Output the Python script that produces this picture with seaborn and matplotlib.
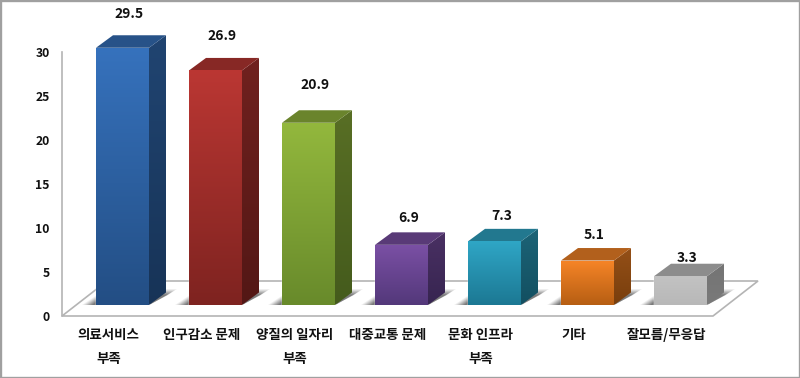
import numpy as np
import pandas as pd
import matplotlib
matplotlib.use("Agg")
import matplotlib.pyplot as plt
from matplotlib.patches import Polygon, Rectangle
from matplotlib.colors import to_rgb
import seaborn as sns

categories = ["의료서비스\n부족", "인구감소 문제", "양질의 일자리\n부족", "대중교통 문제", "문화 인프라\n부족", "기타", "잘모름/무응답"]
values = [29.5, 26.9, 20.9, 6.9, 7.3, 5.1, 3.3]
tick_values = [0, 5, 10, 15, 20, 25, 30]
top_colors = ["#3672bd", "#bb3733", "#93b83d", "#7b50a5", "#2fa6c6", "#f78527", "#c2c2c2"]
bottom_colors = ["#234e84", "#7e2320", "#688a2b", "#53387a", "#1c7893", "#b65e13", "#b8b8b8"]
label_gaps_px = [21, 22, 25, 14, 13, 13, 6]   # gap above each bar's top face

W, H = 800, 378
sns.set_theme(style="white")
plt.rcParams["font.family"] = ["Noto Sans CJK KR", "DejaVu Sans"]
fig = plt.figure(figsize=(W / 100, H / 100), dpi=100, facecolor="white")


def px_axes(x0, x1, ytop, ybot):
    return fig.add_axes([x0 / W, 1 - ybot / H, (x1 - x0) / W, (ybot - ytop) / H])


# Background axis: y axis + floor + category labels
ax = px_axes(62, 713, 52, 316)
df = pd.DataFrame({"cat": categories, "val": values})
ax.set_xlim(-0.5, 6.5)
ax.set_ylim(0, 30)
ax.set_xticks(range(len(categories)))
ax.set_xticklabels(categories, fontsize=9.7, fontweight="bold", color="#111111", linespacing=1.85, va="top")
ax.set_yticks(tick_values)
ax.set_yticklabels([str(t) for t in tick_values], fontsize=8.8, fontweight="bold", color="#111111")
ax.tick_params(axis="x", length=0, pad=9)
ax.tick_params(axis="y", length=0, pad=9)
for s in ["top", "right", "bottom"]:
    ax.spines[s].set_visible(False)
ax.spines["left"].set_color("#b4b4b4")
ax.spines["left"].set_linewidth(1.2)
fdx, fdy = 45 / 93, 35 / 8.8
floor = [(-0.5, 0), (6.5, 0), (6.5 + fdx, fdy), (-0.5 + fdx, fdy)]
ax.add_patch(Polygon(floor, closed=True, facecolor="white", edgecolor="#b4b4b4", lw=1.2, clip_on=False))

# Bars axis: front faces through seaborn (taller than the bars so the depth faces fit)
PXX, PXY = 93.0, 8.72
BAR_YMAX = 34
bx = px_axes(76, 727, 305 - BAR_YMAX * PXY, 305)
bx.patch.set_alpha(0)
sns.barplot(data=df, x="cat", y="val", hue="cat", palette=top_colors, width=53 / 93,
            legend=False, ax=bx, saturation=1)
bx.set_xlim(-0.5, 6.5)
bx.set_ylim(0, BAR_YMAX)
bx.axis("off")

ddx, ddy = 17 / PXX, 12.5 / PXY


def gradient(poly, c0, c1, extent, z):
    c0, c1 = np.array(to_rgb(c0)), np.array(to_rgb(c1))
    t = np.linspace(0, 1, 256)[:, None, None]
    img = (c0[None, None, :] * (1 - t) + c1[None, None, :] * t)
    im = bx.imshow(img, extent=extent, aspect="auto", origin="upper", zorder=z, interpolation="bilinear")
    bx.add_patch(poly)
    poly.set_visible(False)
    im.set_clip_path(poly)
    im.set_clip_on(True)


for i, (bar, v) in enumerate(zip(list(bx.patches), values)):
    x0, w, h = bar.get_x(), bar.get_width(), bar.get_height()
    x1 = x0 + w
    # soft floor shadow
    for k, a in zip(np.linspace(1, 0.3, 7), [0.07, 0.09, 0.11, 0.13, 0.15, 0.17, 0.2]):
        sx = 14 * k / PXX
        sy = 16 * (0.5 + 0.5 * k) / PXY
        shadow = [(x0 - sx, 0), (x1, 0), (x1 + (16 + 12 * k) / PXX, sy), (x0 + 10 / PXX, sy)]
        bx.add_patch(Polygon(shadow, closed=True, facecolor="#303030", edgecolor="none", alpha=a, zorder=1, clip_on=False))
    ctop, cbot = np.array(to_rgb(top_colors[i])), np.array(to_rgb(bottom_colors[i]))
    # side face (gradient)
    side = Polygon([(x1, 0), (x1 + ddx, ddy), (x1 + ddx, h + ddy), (x1, h)], closed=True,
                   edgecolor="none", clip_on=False)
    gradient(side, ctop * 0.6, cbot * 0.66, (x1, x1 + ddx, 0, h + ddy), 2)
    # top face
    top = Polygon([(x0, h), (x1, h), (x1 + ddx, h + ddy), (x0 + ddx, h + ddy)], closed=True,
                  facecolor=ctop * 0.72, edgecolor="none", zorder=2, clip_on=False)
    bx.add_patch(top)
    # front face gradient
    bar.set_zorder(2)
    gradient(Rectangle((x0, 0), w, h, transform=bx.transData), ctop, cbot, (x0, x1, 0, h), 3)
    # value label
    bx.annotate(f"{v:.1f}", (x0 + w / 2, h + ddy), xytext=(7 * 0.72, label_gaps_px[i] * 0.72),
                textcoords="offset points", ha="center", va="center", fontsize=10,
                fontweight="bold", color="#111111", annotation_clip=False, zorder=6)

bx.set_xlim(-0.5, 6.5)
bx.set_ylim(0, BAR_YMAX)

# Picture border
fig.add_artist(Rectangle((0, 0), 1, 1, transform=fig.transFigure, fill=False, edgecolor="#a0a0a0", lw=2.4))
fig.savefig("out.png", dpi=100, facecolor="white")
